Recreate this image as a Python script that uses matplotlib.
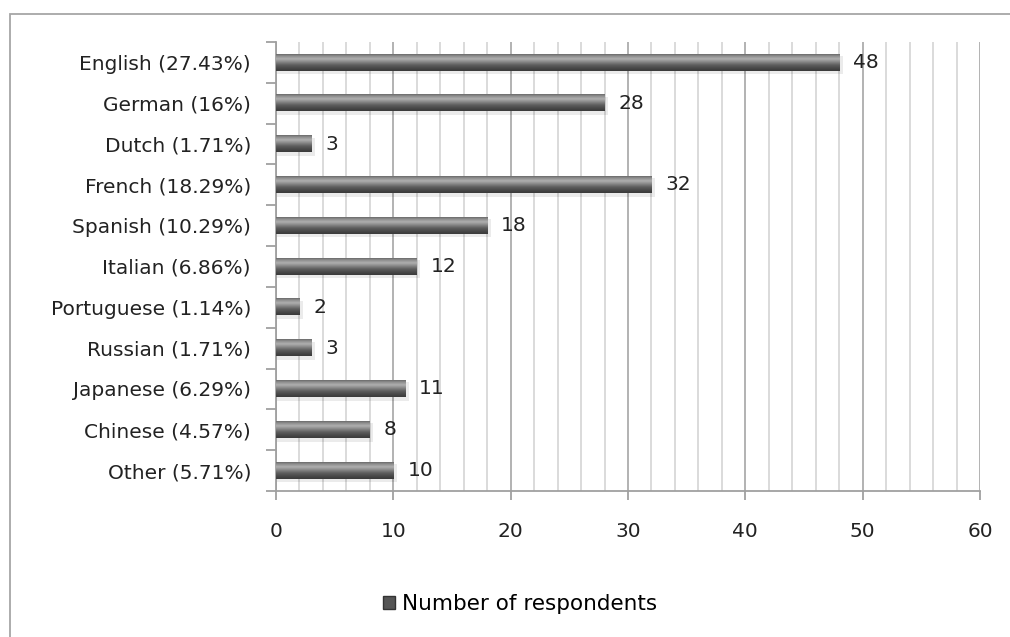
import numpy as np
import matplotlib
matplotlib.use("Agg")
from matplotlib import pyplot as plt
from matplotlib.colors import LinearSegmentedColormap
from matplotlib.patches import Rectangle

languages = ["English (27.43%)", "German (16%)", "Dutch (1.71%)", "French (18.29%)",
             "Spanish (10.29%)", "Italian (6.86%)", "Portuguese (1.14%)", "Russian (1.71%)",
             "Japanese (6.29%)", "Chinese (4.57%)", "Other (5.71%)"]
respondents = [48, 28, 3, 32, 18, 12, 2, 3, 11, 8, 10]
x_ticks = [0, 10, 20, 30, 40, 50, 60]
legend_label = "Number of respondents"

plt.rcParams['font.family'] = ['DejaVu Sans']
fs = 14.5

fig = plt.figure(figsize=(10.1, 6.37), dpi=100)
ax = fig.add_axes([276 / 1010, 1 - 491 / 637, (980 - 276) / 1010, (491 - 42) / 637])

# outer chart border (runs off the right and bottom of the image)
fig.patches.append(Rectangle((10 / 1010, -0.1), 1.2, 1 - 14 / 637 + 0.1,
                             transform=fig.transFigure, fill=False,
                             edgecolor="#a6a6a6", linewidth=1.3))

pos = np.arange(len(languages))
bars = ax.barh(pos, respondents, height=0.4, color="#4d4d4d", zorder=3)

# cylinder-like shading on each bar
shade = LinearSegmentedColormap.from_list("shade", [
    (0.0, "#6a6a6a"), (0.1, "#8c8c8c"), (0.28, "#b0b0b0"), (0.45, "#8a8a8a"),
    (0.65, "#5e5e5e"), (0.85, "#474747"), (1.0, "#3a3a3a")])
grad = np.linspace(0, 1, 64).reshape(-1, 1)
for b in bars:
    x0, y0 = b.get_x(), b.get_y()
    w, h = b.get_width(), b.get_height()
    # soft shadow
    ax.add_patch(Rectangle((x0, y0 + h * 0.1), w + 0.3, h * 1.12, color="#000000",
                           alpha=0.08, zorder=2, linewidth=0))
    ax.imshow(grad, cmap=shade, aspect="auto", extent=(x0, x0 + w, y0 + h, y0),
              zorder=4, interpolation="bilinear")
    ax.text(x0 + w + 1.2, b.get_y() + h / 2, str(int(w)), va="center", ha="left",
            fontsize=fs, color="#222222", zorder=5)

ax.set_xlim(0, 60)
ax.set_ylim(len(languages) - 0.5, -0.5)
ax.set_xticks(x_ticks)
ax.set_xticks(np.arange(0, 61, 2), minor=True)
ax.set_yticks(pos)
ax.set_yticklabels(languages)
ax.set_yticks(np.arange(-0.5, len(languages), 1), minor=True)

ax.grid(axis="x", which="minor", color="#d4d4d4", linewidth=1.2, zorder=0)
ax.grid(axis="x", which="major", color="#a6a6a6", linewidth=1.2, zorder=1)
ax.set_axisbelow(True)

for s in ["top", "right"]:
    ax.spines[s].set_visible(False)
for s in ["left", "bottom"]:
    ax.spines[s].set_color("#a0a0a0")
    ax.spines[s].set_linewidth(1.3)

ax.tick_params(axis="y", which="major", length=0, pad=18, labelsize=fs, labelcolor="#222222")
ax.tick_params(axis="y", which="minor", length=7, width=1.3, color="#a0a0a0")
ax.tick_params(axis="x", which="major", length=6.5, width=1.3, color="#a0a0a0", pad=16,
               labelsize=fs, labelcolor="#222222")
ax.tick_params(axis="x", which="minor", length=0)

ax.set_autoscale_on(False)

handle = Rectangle((0, 0), 1, 1, facecolor="#555555", edgecolor="#333333")
fig.legend([handle], [legend_label], loc="center", bbox_to_anchor=(520 / 1010, 1 - 604 / 637),
           frameon=False, fontsize=15.5, handlelength=0.55, handleheight=0.55, handletextpad=0.3)

fig.savefig("out.png", dpi=100)
